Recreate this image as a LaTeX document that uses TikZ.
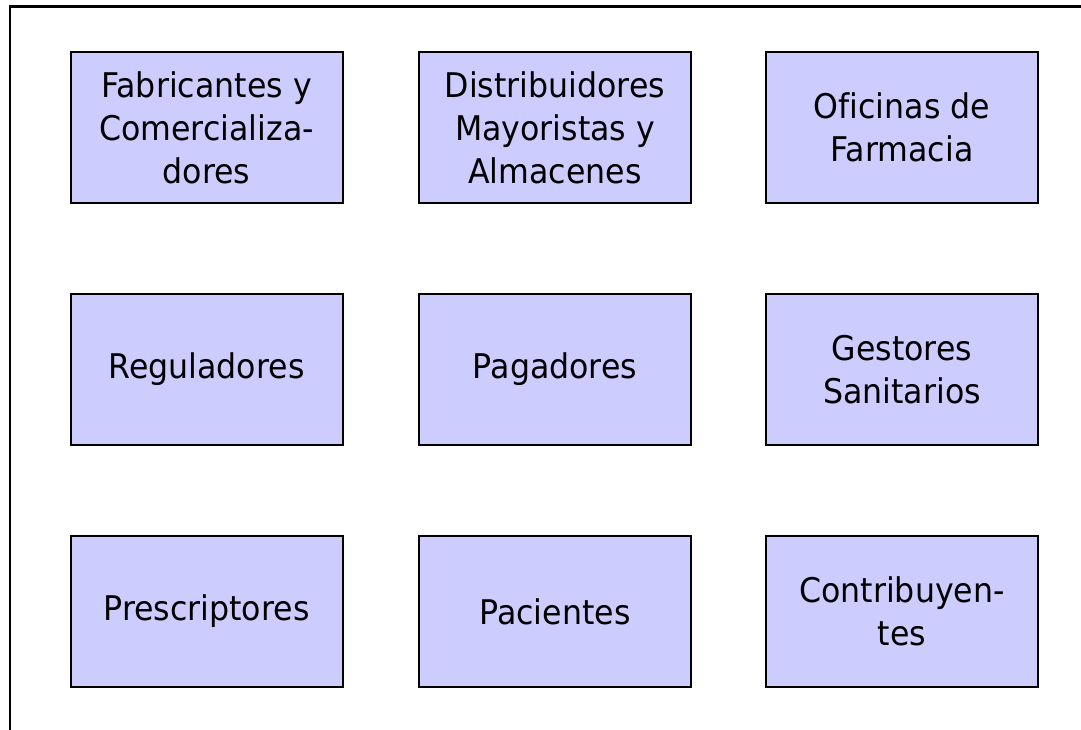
\documentclass[tikz,border=0pt]{standalone}
\usepackage{fontspec}
\setmainfont{DejaVu Sans}[FakeStretch=0.93, Ligatures=NoCommon]
\definecolor{boxfill}{HTML}{CCCCFF}
\tikzset{
  actor/.style={draw=black, line width=2pt, fill=boxfill, minimum width=272pt, minimum height=151pt,
    inner sep=0pt, align=center, font=\fontsize{34}{43}\selectfont, text=black},
  frameline/.style={draw=black, line width=2.2pt}
}
\begin{document}
\begin{tikzpicture}[x=1pt,y=-1pt]
\useasboundingbox (0,0) rectangle (1081,729);
\coordinate (fbl) at (10,730);
\coordinate (ftl) at (10,6.5);
\coordinate (ftr) at (1082,6.5);
\draw[frameline] (fbl) -- (ftl) -- (ftr);
\node[actor] (fab) at (206.5,127.5) {Fabricantes y\\Comercializa-\\dores};
\node[actor] (dis) at (555,127.5) {Distribuidores\\Mayoristas y\\Almacenes};
\node[actor] (ofi) at (902,127.5) {Oficinas de\\Farmacia};
\node[actor] (reg) at (206.5,369.5) {Reguladores};
\node[actor] (pag) at (555,369.5) {Pagadores};
\node[actor] (ges) at (902,369.5) {Gestores\\Sanitarios};
\node[actor] (pre) at (206.5,611.5) {Prescriptores};
\node[actor] (pac) at (555,611.5) {Pacientes};
\node[actor] (con) at (902,611.5) {Contribuyen-\\tes};
\end{tikzpicture}
\end{document}
